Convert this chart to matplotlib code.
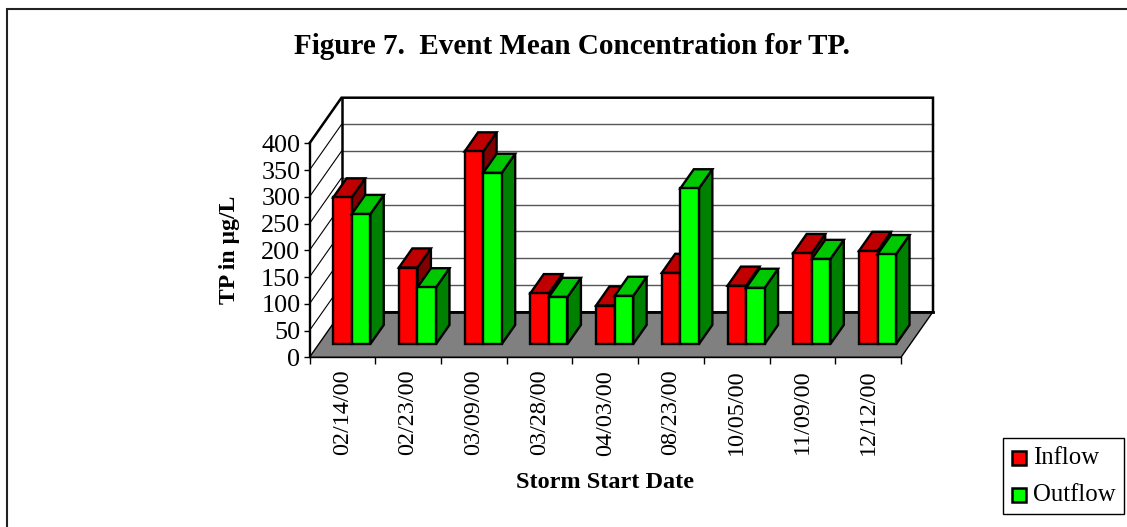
import matplotlib
matplotlib.use("Agg")
import matplotlib.pyplot as plt
from matplotlib.patches import Polygon, Rectangle

dates = ["02/14/00", "02/23/00", "03/09/00", "03/28/00", "04/03/00",
         "08/23/00", "10/05/00", "11/09/00", "12/12/00"]
inflow = [274, 143, 360, 95, 72, 133, 109, 170, 174]
outflow = [243, 106, 320, 88, 90, 291, 105, 159, 168]
y_ticks = [0, 50, 100, 150, 200, 250, 300, 350, 400]

W, H = 1127, 527
# front plane of the chart, in pixels
LEFT, RIGHT, TOP, BOTTOM = 309.5, 901.0, 143.3, 357.3
# how far the back wall sits from the front plane, in data units
DEPTH_X = 32.0 / ((RIGHT - LEFT) / 9)
DEPTH_Y = 45.6 / ((BOTTOM - TOP) / 400)
BAR_W = 0.2825
BAR_GAP = 0.219


def proj(x, y, d=0.0):
    return (x + d * DEPTH_X, y + d * DEPTH_Y)


def poly(ax, pts, face, zorder, lw=1.7, edge="black"):
    ax.add_patch(Polygon(pts, closed=True, facecolor=face, edgecolor=edge, linewidth=lw,
                         joinstyle="miter", clip_on=False, zorder=zorder))


def draw_bar(ax, x0, value, front, top, side, zorder):
    d0, d1 = 0.29, 0.71
    x1 = x0 + BAR_W
    poly(ax, [proj(x1, 0, d0), proj(x1, 0, d1), proj(x1, value, d1), proj(x1, value, d0)], side, zorder)
    poly(ax, [proj(x0, value, d0), proj(x1, value, d0), proj(x1, value, d1), proj(x0, value, d1)], top, zorder)
    poly(ax, [proj(x0, 0, d0), proj(x1, 0, d0), proj(x1, value, d0), proj(x0, value, d0)], front, zorder)


plt.rcParams["font.family"] = ["Liberation Serif"]
fig = plt.figure(figsize=(W / 100, H / 100), dpi=100)
# page frame runs off the right and bottom edges
fig.add_artist(Rectangle((6.5 / W, 1 - 540 / H), 1140 / W, 531.5 / H, transform=fig.transFigure,
                         facecolor="white", edgecolor="#222222", linewidth=1.5, zorder=-1))
ax = fig.add_axes([LEFT / W, 1 - BOTTOM / H, (RIGHT - LEFT) / W, (BOTTOM - TOP) / H])
ax.patch.set_visible(False)
ax.set_xlim(0, 9)
ax.set_ylim(0, 400)
for name in ("top", "right"):
    ax.spines[name].set_visible(False)
ax.spines["left"].set_linewidth(1.7)
ax.spines["bottom"].set_linewidth(1.0)

# floor and walls
poly(ax, [proj(0, 0), proj(9, 0), proj(9, 0, 1), proj(0, 0, 1)], "#808080", 1, lw=1.0)
ax.plot([proj(0, 0, 1)[0], proj(9, 0, 1)[0]], [proj(0, 0, 1)[1]] * 2, color="black", lw=2.0,
        clip_on=False, zorder=2)
for v in y_ticks[1:-1]:
    xs = [proj(0, v)[0], proj(0, v, 1)[0], proj(9, v, 1)[0]]
    ys = [proj(0, v)[1], proj(0, v, 1)[1], proj(9, v, 1)[1]]
    ax.plot(xs[:2], ys[:2], color="black", lw=0.8, clip_on=False, zorder=1)
    ax.plot(xs[1:], ys[1:], color="#555555", lw=1.0, clip_on=False, zorder=1)
ax.plot([proj(0, 400)[0], proj(0, 400, 1)[0], proj(9, 400, 1)[0], proj(9, 0, 1)[0]],
        [proj(0, 400)[1], proj(0, 400, 1)[1], proj(9, 400, 1)[1], proj(9, 0, 1)[1]],
        color="black", lw=1.8, clip_on=False, zorder=2, solid_joinstyle="miter")
ax.plot([proj(0, 0, 1)[0]] * 2, [proj(0, 0, 1)[1], proj(0, 400, 1)[1]], color="black", lw=1.8,
        clip_on=False, zorder=2)

# bars, inflow behind outflow in each pair
for i, (a, b) in enumerate(zip(inflow, outflow)):
    draw_bar(ax, i + BAR_GAP, a, "#ff0000", "#c00000", "#800000", 5 + 2 * i)
    draw_bar(ax, i + BAR_GAP + BAR_W, b, "#00ff00", "#00c800", "#008000", 6 + 2 * i)

ax.set_yticks(y_ticks)
ax.tick_params(axis="y", labelsize=18.8, length=4, width=1, pad=2.5, direction="out")
ax.set_xticks(range(10))
ax.set_xticklabels([])
ax.tick_params(axis="x", which="major", length=5, width=1, direction="out")
ax.set_xticks([i + 0.5 for i in range(9)], labels=dates, minor=True)
ax.tick_params(axis="x", which="minor", length=0, labelsize=17.4, rotation=90, pad=9)

fig.text(572 / W, 1 - 47 / H, "Figure 7.  Event Mean Concentration for TP.", ha="center", va="center",
         fontsize=21, fontweight="bold")
fig.text(230 / W, 1 - 250 / H, "TP in µg/L", rotation=90, ha="center", va="center",
         fontsize=17, fontweight="bold")
fig.text(605 / W, 1 - 482 / H, "Storm Start Date", ha="center", va="center",
         fontsize=17.5, fontweight="bold")

# legend box
fig.add_artist(Rectangle((1003 / W, 1 - 514 / H), 121 / W, 76 / H, transform=fig.transFigure,
                         facecolor="white", edgecolor="black", linewidth=1.0))
for label, color, y in (("Inflow", "#ff0000", 458), ("Outflow", "#00ff00", 495)):
    fig.add_artist(Rectangle((1012 / W, 1 - (y + 7) / H), 14 / W, 14 / H, transform=fig.transFigure,
                             facecolor=color, edgecolor="black", linewidth=1.8))
    fig.text(1033 / W, 1 - y / H, label, ha="left", va="center", fontsize=17.8)

fig.savefig("out.png", dpi=100)
